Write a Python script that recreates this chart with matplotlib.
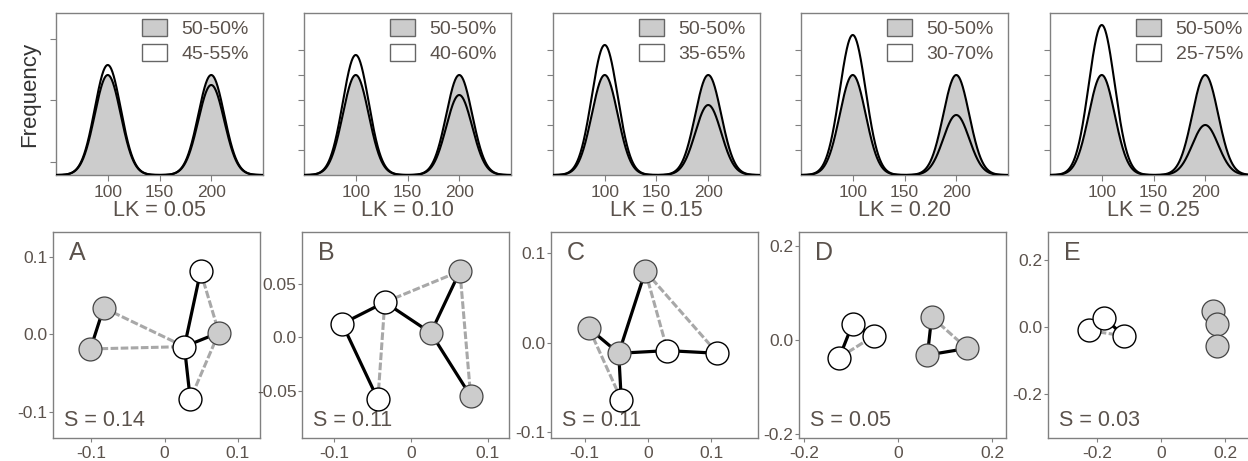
import numpy as np
import matplotlib
matplotlib.use("Agg")
import matplotlib.pyplot as plt
from matplotlib.patches import Patch

plt.rcParams['font.family'] = ['Liberation Sans', 'DejaVu Sans']
plt.rcParams['axes.unicode_minus'] = False

# ---------------- data ----------------
lk_values = ["0.05", "0.10", "0.15", "0.20", "0.25"]
alt_labels = ["45-55%", "40-60%", "35-65%", "30-70%", "25-75%"]
alt_weight_100 = [0.55, 0.60, 0.65, 0.70, 0.75]   # share in the peak at 100
peak_means = [100, 200]
peak_sd = 12.5
peak_height_5050 = 4.0     # height of a 50 % peak (frequency units)

panel_letters = ["A", "B", "C", "D", "E"]
s_values = ["0.14", "0.11", "0.11", "0.05", "0.03"]

node_x = [
    [-0.083, -0.101, 0.027, 0.049, 0.074, 0.035],
    [-0.0895, -0.034, -0.043, 0.026, 0.064, 0.078],
    [-0.004, -0.093, -0.046, 0.031, 0.110, -0.042],
    [-0.097, -0.052, -0.1255, 0.071, 0.062, 0.146],
    [-0.225, -0.176, -0.116, 0.161, 0.1745, 0.1745],
]
node_y = [
    [0.034, -0.019, -0.016, 0.081, 0.002, -0.084],
    [0.0125, 0.0326, -0.058, 0.004, 0.0615, -0.055],
    [0.080, 0.016, -0.012, -0.009, -0.012, -0.064],
    [0.034, 0.0085, -0.0375, 0.049, -0.032, -0.018],
    [-0.010, 0.027, -0.026, 0.049, 0.010, -0.056],
]
node_gray = [
    [1, 1, 0, 0, 1, 0],
    [0, 0, 0, 1, 1, 1],
    [1, 1, 1, 0, 0, 0],
    [0, 0, 0, 1, 1, 1],
    [0, 0, 0, 1, 1, 1],
]
black_edges = [
    [(0, 1), (2, 3), (2, 4), (2, 5)],
    [(0, 1), (1, 3), (3, 4), (3, 5), (0, 2)],
    [(0, 2), (1, 2), (2, 3), (3, 4), (2, 5)],
    [(0, 2), (0, 1), (3, 4), (4, 5)],
    [(1, 2), (4, 5)],
]
gray_edges = [
    [(0, 2), (1, 2), (3, 4), (4, 5)],
    [(1, 4), (1, 2), (4, 5)],
    [(0, 3), (0, 4), (1, 5)],
    [(2, 1), (3, 5)],
    [(0, 2)],
]
bottom_xticks = [[-0.1, 0, 0.1]] * 3 + [[-0.2, 0, 0.2]] * 2
bottom_xticklabels = [["-0.1", "0", "0.1"]] * 3 + [["-0.2", "0", "0.2"]] * 2
bottom_yticks = [[-0.1, 0, 0.1], [-0.05, 0, 0.05], [-0.1, 0, 0.1], [-0.2, 0, 0.2], [-0.2, 0, 0.2]]
bottom_yticklabels = [["-0.1", "0.0", "0.1"], ["-0.05", "0.0", "0.05"], ["-0.1", "0.0", "0.1"],
                      ["-0.2", "0.0", "0.2"], ["-0.2", "0.0", "0.2"]]
top_yticks = [[0.5, 3.0, 5.45]] + [[1, 2, 3, 4, 5]] * 4

# ---------------- layout / style ----------------
W, H = 1248, 461
TXT = '#5b524c'
SPINE = '#808080'
GFILL = '#cccccc'

top_left = [56, 304, 553, 801, 1050]
bot_left = [53, 302, 551, 799, 1048]
bot_xlim = [(-0.152, 0.130), (-0.142, 0.128), (-0.153, 0.174), (-0.211, 0.229), (-0.352, 0.293)]
bot_ylim = [(-0.134, 0.132), (-0.094, 0.098), (-0.107, 0.124), (-0.208, 0.229), (-0.331, 0.284)]


def px_axes(fig, x0, y0, w, h):
    return fig.add_axes([x0 / W, 1 - (y0 + h) / H, w / W, h / H])


def style(ax):
    for s in ax.spines.values():
        s.set_color(SPINE)
        s.set_linewidth(1.0)
    ax.tick_params(colors=SPINE, labelcolor=TXT, length=4, width=0.8)


fig = plt.figure(figsize=(W / 100, H / 100), dpi=100)

xs = np.linspace(50, 250, 801)


def mix(w100):
    w = [w100, 1 - w100]
    y = np.zeros_like(xs)
    for m, wi in zip(peak_means, w):
        y += peak_height_5050 * (wi / 0.5) * np.exp(-0.5 * ((xs - m) / peak_sd) ** 2)
    return y


for i in range(5):
    ax = px_axes(fig, top_left[i], 13, 207, 162)
    style(ax)
    base = mix(0.5)
    alt = mix(alt_weight_100[i])
    ax.fill_between(xs, 0, base, color=GFILL, lw=0, zorder=1)
    ax.plot(xs, base, color='black', lw=1.5, zorder=3)
    ax.plot(xs, alt, color='black', lw=1.5, zorder=3)
    ax.set_xlim(50, 250)
    ax.set_ylim(0, 6.48)
    ax.set_xticks([100, 150, 200])
    ax.set_xticklabels(["100", "150", "200"], fontsize=12.5)
    ax.set_yticks(top_yticks[i])
    ax.set_yticklabels([])
    ax.tick_params(axis='x', pad=3.5)
    ax.set_xlabel("LK = " + lk_values[i], fontsize=15.5, color=TXT, labelpad=0)
    handles = [Patch(facecolor=GFILL, edgecolor='#666666', lw=1.0),
               Patch(facecolor='white', edgecolor='#666666', lw=1.0)]
    ax.legend(handles, ["50-50%", alt_labels[i]], loc='upper left',
              bbox_to_anchor=(0.386, 1.0), frameon=False, fontsize=14,
              handlelength=1.3, handleheight=1.0, handletextpad=0.75,
              labelspacing=0.28, borderpad=0.3, borderaxespad=0.0,
              labelcolor=TXT)
    if i == 0:
        ax.set_ylabel("Frequency", fontsize=16, color='#333333', labelpad=4)

for i in range(5):
    ax = px_axes(fig, bot_left[i], 232, 207, 206)
    style(ax)
    ax.tick_params(length=3)
    nx, ny = node_x[i], node_y[i]
    for a, b in gray_edges[i]:
        ax.plot([nx[a], nx[b]], [ny[a], ny[b]], color='#a8a8a8', lw=2.2,
                dashes=(2.5, 0.8), zorder=2, solid_capstyle='butt')
    for a, b in black_edges[i]:
        ax.plot([nx[a], nx[b]], [ny[a], ny[b]], color='black', lw=2.3, zorder=3)
    for j in range(len(nx)):
        if node_gray[i][j]:
            ax.plot(nx[j], ny[j], 'o', ms=16.5, mfc=GFILL, mec='#444444', mew=0.9, zorder=4)
        else:
            ax.plot(nx[j], ny[j], 'o', ms=16.5, mfc='white', mec='black', mew=1.0, zorder=4)
    ax.set_xlim(*bot_xlim[i])
    ax.set_ylim(*bot_ylim[i])
    ax.set_xticks(bottom_xticks[i])
    ax.set_xticklabels(bottom_xticklabels[i], fontsize=12.5)
    ax.set_yticks(bottom_yticks[i])
    ax.set_yticklabels(bottom_yticklabels[i], fontsize=12.5)
    ax.tick_params(axis='y', pad=1)
    ax.tick_params(axis='x', pad=3)
    ax.text(0.075, 0.955, panel_letters[i], transform=ax.transAxes, fontsize=18,
            color=TXT, ha='left', va='top')
    ax.text(0.055, 0.035, "S = " + s_values[i], transform=ax.transAxes, fontsize=15.5,
            color=TXT, ha='left', va='bottom')

fig.savefig("out.png", dpi=100)
